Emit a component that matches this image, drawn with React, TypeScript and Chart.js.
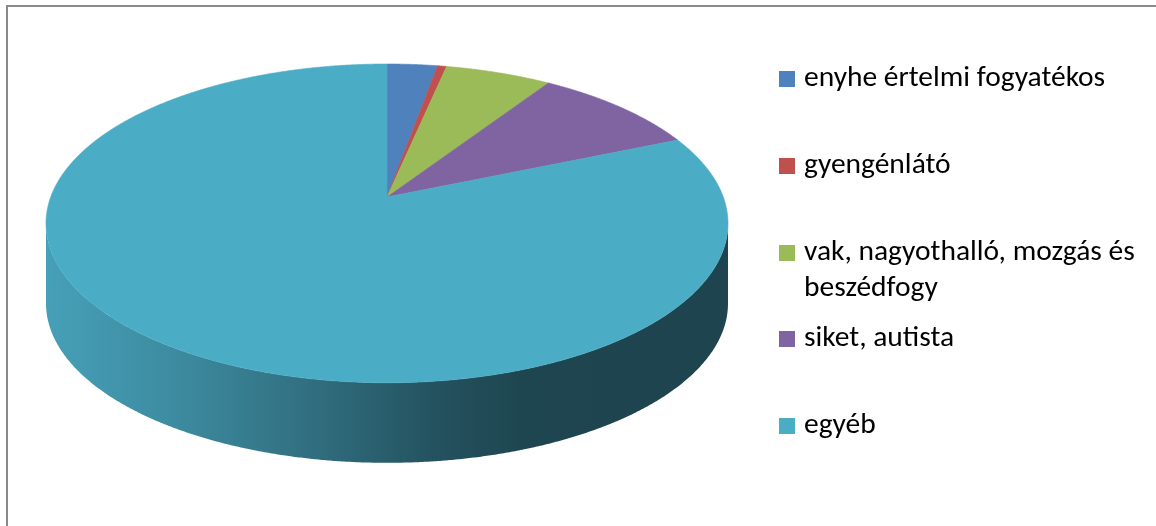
import React, { useEffect, useRef } from "react";
import { Chart, registerables } from "chart.js";

Chart.register(...registerables);

// ---- data ----
const CATEGORIES = [
  "enyhe értelmi fogyatékos",
  "gyengénlátó",
  "vak, nagyothalló, mozgás és beszédfogy",
  "siket, autista",
  "egyéb",
];
const LEGEND_LINES = [
  ["enyhe értelmi fogyatékos"],
  ["gyengénlátó"],
  ["vak, nagyothalló, mozgás és", "beszédfogy"],
  ["siket, autista"],
  ["egyéb"],
];
const VALUES = [2.8, 0.5, 5.9, 9.4, 81.4];
const COLORS = ["#4f81bd", "#c0504d", "#9bbb59", "#8064a2", "#4bacc6"];

// ---- 3D look (style) ----
const PERSP = 0.165;
const HEIGHT_RATIO = 0.461;
const DEPTH_RATIO = 0.238;
const SHADE_STOPS: [number, number][] = [
  [0, 0.93],
  [0.19, 0.81],
  [0.38, 0.65],
  [0.58, 0.47],
  [0.7, 0.405],
  [1, 0.4],
];

function shade(hex: string, f: number) {
  const h = hex.replace("#", "");
  const r = Math.round(parseInt(h.slice(0, 2), 16) * f);
  const g = Math.round(parseInt(h.slice(2, 4), 16) * f);
  const b = Math.round(parseInt(h.slice(4, 6), 16) * f);
  return `rgb(${r},${g},${b})`;
}

const pie3d = {
  id: "pie3d",
  beforeDatasetsDraw(chart: any) {
    const { ctx, chartArea: a } = chart;
    const meta = chart.getDatasetMeta(0);
    const kx = ((a.right - a.left) / 2) * Math.sqrt(1 - PERSP * PERSP);
    const m = kx * HEIGHT_RATIO;
    const depth = kx * DEPTH_RATIO;
    const cx = (a.left + a.right) / 2;
    const cy = a.top + m / (1 + PERSP);
    const proj = (ang: number, dy = 0): [number, number] => {
      const u = Math.cos(ang);
      const v = -Math.sin(ang);
      const w = 1 + PERSP * v;
      return [cx + (kx * u) / w, cy - (m * v) / w + dy];
    };
    const visA = Math.asin(PERSP);
    const visB = Math.PI - visA;

    ctx.save();
    // side walls
    meta.data.forEach((arc: any) => {
      const { startAngle, endAngle } = arc.getProps(["startAngle", "endAngle"], true);
      const s = Math.max(startAngle, visA);
      const e = Math.min(endAngle, visB);
      if (e <= s) return;
      const color = arc.options.backgroundColor as string;
      const grad = ctx.createLinearGradient(a.left, 0, a.right, 0);
      SHADE_STOPS.forEach(([t, f]) => grad.addColorStop(t, shade(color, f)));
      const n = Math.max(2, Math.ceil((e - s) / 0.005));
      ctx.beginPath();
      for (let k = 0; k <= n; k++) {
        const [x, y] = proj(s + ((e - s) * k) / n);
        if (k === 0) ctx.moveTo(x, y);
        else ctx.lineTo(x, y);
      }
      for (let k = n; k >= 0; k--) {
        const [x, y] = proj(s + ((e - s) * k) / n, depth);
        ctx.lineTo(x, y);
      }
      ctx.closePath();
      ctx.fillStyle = grad;
      ctx.fill();
    });
    // top faces
    meta.data.forEach((arc: any) => {
      const { startAngle, endAngle } = arc.getProps(["startAngle", "endAngle"], true);
      const color = arc.options.backgroundColor as string;
      const n = Math.max(2, Math.ceil((endAngle - startAngle) / 0.005));
      ctx.beginPath();
      ctx.moveTo(cx, cy);
      for (let k = 0; k <= n; k++) {
        const [x, y] = proj(startAngle + ((endAngle - startAngle) * k) / n);
        ctx.lineTo(x, y);
      }
      ctx.closePath();
      ctx.fillStyle = color;
      ctx.fill();
      ctx.strokeStyle = color;
      ctx.lineWidth = 0.6;
      ctx.stroke();
    });
    ctx.restore();
    return false;
  },
};

// legend layout (style)
const LEGEND_X = 779;
const LEGEND_Y0 = 78.7;
const LEGEND_STEP = 86.9;
const LEGEND_LINE = 36;
const LEGEND_FONT = 29.5;

export default function App() {
  const ref = useRef<HTMLCanvasElement>(null);
  useEffect(() => {
    if (!ref.current) return;
    const chart = new Chart(ref.current, {
      type: "pie",
      data: {
        labels: CATEGORIES,
        datasets: [{ data: VALUES, backgroundColor: COLORS, borderWidth: 0 }],
      },
      options: {
        responsive: false,
        animation: false,
        events: [],
        layout: { padding: { left: 46, right: 428, top: 64, bottom: 63 } },
        plugins: { legend: { display: false }, tooltip: { enabled: false } },
      },
      plugins: [pie3d as any],
    });
    return () => chart.destroy();
  }, []);

  return (
    <div
      style={{
        position: "fixed",
        left: 0,
        top: 0,
        width: 1156,
        height: 526,
        overflow: "hidden",
        background: "#fff",
      }}
    >
      <div
        style={{
          position: "absolute",
          left: 6,
          top: 5,
          width: 1300,
          height: 700,
          border: "2px solid #8a8a8a",
        }}
      />
      <canvas
        ref={ref}
        width={1156}
        height={526}
        style={{ position: "absolute", left: 0, top: 0, width: 1156, height: 526 }}
      />
      {LEGEND_LINES.map((lines, i) => (
        <div
          key={i}
          style={{
            position: "absolute",
            left: LEGEND_X,
            top: LEGEND_Y0 + i * LEGEND_STEP - LEGEND_LINE / 2,
            display: "flex",
            alignItems: "flex-start",
            fontFamily: "Carlito, Calibri, Lato, sans-serif",
            fontSize: LEGEND_FONT,
            lineHeight: `${LEGEND_LINE}px`,
            color: "#000",
            whiteSpace: "nowrap",
          }}
        >
          <div
            style={{
              width: 16,
              height: 16,
              marginTop: (LEGEND_LINE - 16) / 2,
              background: COLORS[i],
              flex: "none",
            }}
          />
          <div style={{ marginLeft: 9, position: "relative", top: -3 }}>
            {lines.map((l, j) => (
              <div key={j}>{l}</div>
            ))}
          </div>
        </div>
      ))}
    </div>
  );
}
